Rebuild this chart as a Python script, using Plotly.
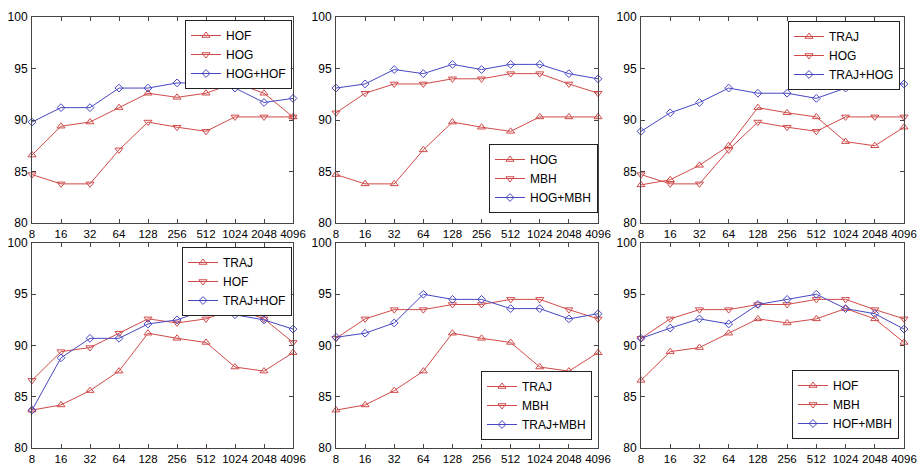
import plotly.graph_objects as go

categories = ["8", "16", "32", "64", "128", "256", "512", "1024", "2048", "4096"]

HOF = [86.6, 89.4, 89.8, 91.2, 92.6, 92.2, 92.6, 93.6, 92.6, 90.3]
HOG = [84.7, 83.8, 83.8, 87.1, 89.8, 89.3, 88.9, 90.3, 90.3, 90.3]
MBH = [90.7, 92.6, 93.5, 93.5, 94.0, 94.0, 94.5, 94.5, 93.5, 92.6]
TRAJ = [83.7, 84.2, 85.6, 87.5, 91.2, 90.7, 90.3, 87.9, 87.5, 89.3]

HOG_HOF = [89.8, 91.2, 91.2, 93.1, 93.1, 93.6, 93.6, 93.1, 91.7, 92.1]
HOG_MBH = [93.1, 93.5, 94.9, 94.5, 95.4, 94.9, 95.4, 95.4, 94.5, 94.0]
TRAJ_HOG = [88.9, 90.7, 91.7, 93.1, 92.6, 92.6, 92.1, 93.1, 93.5, 93.5]
TRAJ_HOF = [83.7, 88.8, 90.7, 90.7, 92.1, 92.5, 93.5, 93.0, 92.5, 91.6]
TRAJ_MBH = [90.8, 91.2, 92.2, 95.0, 94.5, 94.5, 93.6, 93.6, 92.6, 93.1]
HOF_MBH = [90.7, 91.7, 92.6, 92.1, 94.0, 94.5, 95.0, 93.6, 93.1, 91.6]

y_ticks = [80, 85, 90, 95, 100]

panels = [
    [("HOF", HOF, "up"), ("HOG", HOG, "down"), ("HOG+HOF", HOG_HOF, "comb")],
    [("HOG", HOG, "up"), ("MBH", MBH, "down"), ("HOG+MBH", HOG_MBH, "comb")],
    [("TRAJ", TRAJ, "up"), ("HOG", HOG, "down"), ("TRAJ+HOG", TRAJ_HOG, "comb")],
    [("TRAJ", TRAJ, "up"), ("HOF", HOF, "down"), ("TRAJ+HOF", TRAJ_HOF, "comb")],
    [("TRAJ", TRAJ, "up"), ("MBH", MBH, "down"), ("TRAJ+MBH", TRAJ_MBH, "comb")],
    [("HOF", HOF, "up"), ("MBH", MBH, "down"), ("HOF+MBH", HOF_MBH, "comb")],
]

W, H = 917, 465
# pixel boxes of each axis (left, right, top, bottom)
boxes = [
    (32, 293, 17, 223), (336, 598, 17, 223), (641, 904, 17, 223),
    (32, 293, 243, 448), (336, 598, 243, 448), (641, 904, 243, 448),
]
# legend placement: (right px, y px, anchor)
legpos = [
    (292, 20, "top"), (598, 213, "bottom"), (900, 21, "top"),
    (292, 247, "top"), (592, 440, "bottom"), (899, 439, "bottom"),
]

RED = "#d04a4a"
BLUE = "#4747c2"
FONT = "Liberation Sans, Arial, sans-serif"
sym = {"up": "triangle-up-open", "down": "triangle-down-open", "comb": "diamond-open"}

fig = go.Figure()
layout = dict(
    width=W, height=H,
    margin=dict(l=0, r=0, t=0, b=0, autoexpand=False),
    paper_bgcolor="white", plot_bgcolor="white",
    font=dict(family=FONT, size=12, color="black"),
)

for i, (panel, box, lp) in enumerate(zip(panels, boxes, legpos)):
    n = i + 1
    xa = "x" if n == 1 else f"x{n}"
    ya = "y" if n == 1 else f"y{n}"
    lg = "legend" if n == 1 else f"legend{n}"
    for name, vals, kind in panel:
        col = BLUE if kind == "comb" else RED
        fig.add_trace(go.Scatter(
            x=categories, y=vals, name=name, mode="lines+markers",
            xaxis=xa, yaxis=ya, legend=lg, cliponaxis=False,
            line=dict(color=col, width=1),
            marker=dict(symbol=sym[kind], size=7 if kind != "comb" else 6,
                        color=col, line=dict(width=1, color=col)),
        ))
    l, r, t, b = box
    axcommon = dict(showline=True, mirror="allticks", linecolor="#444",
                    linewidth=1, ticks="inside", ticklen=4, tickcolor="#444",
                    showgrid=False, zeroline=False, automargin=False)
    layout["xaxis" if n == 1 else f"xaxis{n}"] = dict(
        axcommon, domain=[l / W, r / W], anchor=ya, type="category",
        range=[0, len(categories) - 1], tickangle=0, ticklabelstandoff=0,
        tickfont=dict(family=FONT, size=11.5, color="black"))
    layout["yaxis" if n == 1 else f"yaxis{n}"] = dict(
        axcommon, domain=[1 - b / H, 1 - t / H], anchor=xa,
        range=[80, 100], tickvals=y_ticks, ticklabelstandoff=1,
        tickfont=dict(family=FONT, size=12, color="black"))
    rx, py, anc = lp
    layout[lg] = dict(
        x=rx / W, xanchor="right", y=1 - py / H, yanchor=anc,
        xref="paper", yref="paper",
        bgcolor="white", bordercolor="#222", borderwidth=1,
        font=dict(family=FONT, size=12, color="black"),
        tracegroupgap=0, itemwidth=30,
    )

fig.update_layout(**layout)
fig.write_html("out.html")
